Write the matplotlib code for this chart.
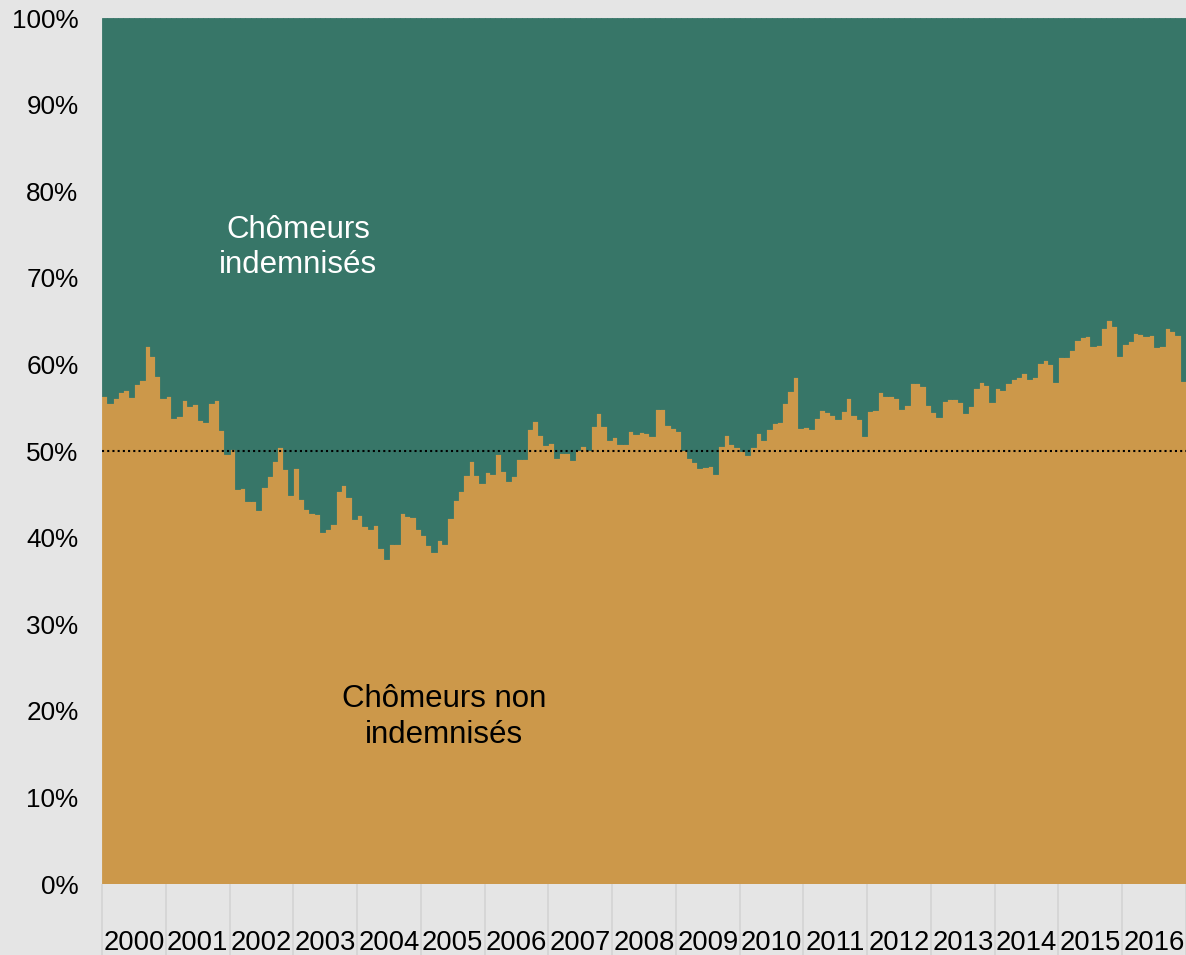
import matplotlib
matplotlib.use("Agg")
import matplotlib.pyplot as plt
import numpy as np

plt.rcParams['font.family'] = ['Liberation Sans', 'DejaVu Sans']

years = [str(y) for y in range(2000, 2017)]

# Share of non-compensated unemployed (%), monthly
y2000 = [56.4, 55.6, 56.1, 56.8, 57.1, 56.2, 57.7, 58.2, 62.1, 61.0, 58.7, 56.1]
y2001 = [56.4, 53.8, 54.0, 55.9, 55.2, 55.4, 53.6, 53.4, 55.5, 55.9, 52.4, 49.7]
y2002 = [50.2, 45.6, 45.7, 44.2, 44.2, 43.2, 45.8, 47.1, 48.9, 50.5, 47.9, 44.9]
y2003 = [48.0, 44.5, 43.3, 42.8, 42.7, 40.6, 41.0, 41.6, 45.4, 46.1, 44.7, 42.1]
y2004 = [42.6, 41.3, 41.0, 41.5, 38.8, 37.5, 39.3, 39.3, 42.8, 42.5, 42.4, 41.0]
y2005 = [40.3, 39.2, 38.3, 39.7, 39.3, 42.3, 44.3, 45.4, 47.2, 48.8, 47.2, 46.3]
y2006 = [47.6, 47.4, 49.7, 47.7, 46.5, 47.1, 49.1, 49.1, 52.5, 53.5, 51.8, 50.7]
y2007 = [50.9, 49.2, 49.8, 49.8, 49.0, 50.1, 50.6, 50.1, 52.9, 54.4, 52.9, 51.3]
y2008 = [51.6, 50.8, 50.8, 52.3, 52.0, 52.2, 52.1, 51.7, 54.8, 54.9, 53.0, 52.6]
y2009 = [52.3, 50.1, 49.2, 48.7, 48.0, 48.1, 48.3, 47.4, 50.6, 51.9, 50.8, 50.5]
y2010 = [50.0, 49.5, 50.5, 52.1, 51.3, 52.5, 53.2, 53.4, 55.5, 56.9, 58.5, 52.7]
y2011 = [52.8, 52.5, 53.8, 54.7, 54.5, 54.2, 53.7, 54.6, 56.1, 54.1, 53.7, 51.7]
y2012 = [54.6, 54.7, 56.8, 56.3, 56.4, 56.1, 54.8, 55.3, 57.8, 57.9, 57.5, 55.3]
y2013 = [54.5, 53.9, 55.8, 56.0, 56.0, 55.7, 54.4, 55.2, 57.3, 58.0, 57.6, 55.7]
y2014 = [57.3, 57.0, 57.8, 58.3, 58.6, 59.0, 58.3, 58.5, 60.2, 60.5, 60.0, 58.0]
y2015 = [60.8, 60.9, 61.7, 62.8, 63.2, 63.3, 62.1, 62.2, 64.2, 65.1, 64.4, 61.0]
y2016 = [62.4, 62.7, 63.6, 63.5, 63.3, 63.4, 62.0, 62.1, 64.2, 63.9, 63.4, 58.1]

non_indemnises = np.array(y2000 + y2001 + y2002 + y2003 + y2004 + y2005 + y2006 +
                          y2007 + y2008 + y2009 + y2010 + y2011 + y2012 + y2013 +
                          y2014 + y2015 + y2016)
indemnises = 100 - non_indemnises

C_ORANGE = '#CC984A'
C_TEAL = '#377668'
BG = '#E5E5E5'

fig = plt.figure(figsize=(11.86, 9.55), dpi=100, facecolor=BG)
ax = fig.add_axes([102/1186, 1 - 884/955, 1 - 102/1186, (884 - 18)/955])
ax.set_facecolor(BG)

x = np.arange(len(non_indemnises))
ax.bar(x, non_indemnises, width=1.0, color=C_ORANGE, linewidth=0.6, edgecolor=C_ORANGE)
ax.bar(x, indemnises, width=1.0, bottom=non_indemnises, color=C_TEAL, linewidth=0.6, edgecolor=C_TEAL)

ax.axhline(50, color='black', linestyle=(0, (1, 1.5)), linewidth=1.5)

ax.set_xlim(-0.5, len(x) - 0.5)
ax.set_ylim(0, 100)

ax.set_yticks(np.arange(0, 101, 10))
ax.set_yticklabels([f"{v}%" for v in range(0, 101, 10)])
ax.tick_params(axis='y', length=0, pad=17, labelsize=18.8)

ax.set_xticks(np.arange(len(years)) * 12 + 5.5)
ax.set_xticklabels(years)
ax.set_xticks(np.arange(len(years) + 1) * 12 - 0.5, minor=True)
ax.tick_params(axis='x', which='major', length=0, pad=33, labelsize=19.8)
ax.tick_params(axis='x', which='minor', length=52, width=1.2, color='#D3D3D3', direction='out')

for s in ax.spines.values():
    s.set_visible(False)

ax.text(36.4, 73.5, "Chômeurs\nindemnisés", color='white', fontsize=22.5,
        ha='center', va='center', linespacing=1.2)
ax.text(63.9, 19.3, "Chômeurs non\nindemnisés", color='black', fontsize=22.5,
        ha='center', va='center', linespacing=1.28)

fig.savefig("out.png", dpi=100, facecolor=BG)
